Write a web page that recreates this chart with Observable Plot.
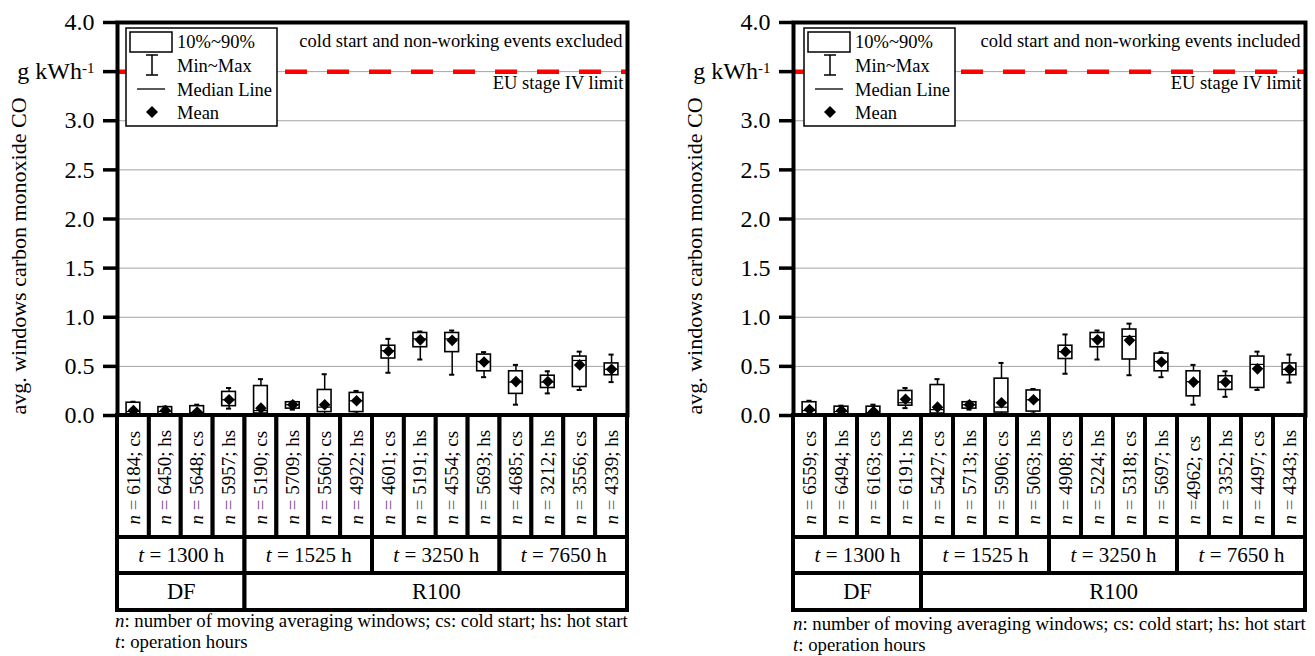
<!DOCTYPE html>
<html>
<head>
<meta charset="utf-8">
<script src="https://cdn.jsdelivr.net/npm/d3@7"></script>
<script src="https://cdn.jsdelivr.net/npm/@observablehq/plot@0.6"></script>
<style>
  html, body { margin: 0; padding: 0; background: #fff; }
  body { width: 1315px; height: 656px; overflow: hidden; position: relative;
         font-family: "Liberation Serif", Tinos, "Times New Roman", Times, "DejaVu Serif", serif; color: #000; }
  .panel { position: absolute; top: 0; height: 656px; }
  .panel .main { position: absolute; left: 0; top: 0; }
  .panel .table { position: absolute; left: 0; top: 413px; }
  .panel svg { overflow: visible; }
  .ytitle { position: absolute; left: 19px; top: 256px; font-size: 22px; white-space: nowrap;
            transform: translate(-50%, -50%) rotate(-90deg); }
  .legend { position: absolute; top: 27px; }
  .caption { position: absolute; font-size: 18.8px; line-height: 21px; white-space: nowrap; }
  svg [aria-label="y-axis tick"] { stroke-width: 3.5px; }
  svg text { font-family: "Liberation Serif", Tinos, "Times New Roman", Times, "DejaVu Serif", serif; }
</style>
</head>
<body>
<script>
// ---------------- data ----------------
const categoryIndex = d3.range(16);
const timeLabels = ["t = 1300 h", "t = 1525 h", "t = 3250 h", "t = 7650 h"];
const timeSpans = [4, 4, 4, 4];
const fuelLabels = ["DF", "R100"];
const fuelSpans = [4, 12];

const yTicks = [0, 0.5, 1, 1.5, 2, 2.5, 3, 3.5, 4];
const yTickLabels = ["0.0", "0.5", "1.0", "1.5", "2.0", "2.5", "3.0", "g kWh-1", "4.0"];
const gridTicks = [0.5, 1, 1.5, 2, 2.5, 3, 3.5];
const euLimit = 3.5;
const yTitle = "avg. windows carbon monoxide CO";
const limitLabel = "EU stage IV limit";
const legendLabels = ["10%~90%", "Min~Max", "Median Line", "Mean"];
const captionLines = ["<i>n</i>: number of moving averaging windows; cs: cold start; hs: hot start",
                      "<i>t</i>: operation hours"];

// Left: cold start and non-working events excluded
const noteExcluded = "cold start and non-working events excluded";
const nLabelsExcluded = ["n = 6184; cs", "n = 6450; hs", "n = 5648; cs", "n = 5957; hs",
                         "n = 5190; cs", "n = 5709; hs", "n = 5560; cs", "n = 4922; hs",
                         "n = 4601; cs", "n = 5191; hs", "n = 4554; cs", "n = 5693; hs",
                         "n = 4685; cs", "n = 3212; hs", "n = 3556; cs", "n = 4339; hs"];
const p10Excluded  = [0.01, 0.01, 0.01, 0.095, 0.02, 0.07, 0.035, 0.035, 0.58, 0.695, 0.645, 0.45, 0.22, 0.28, 0.29, 0.41];
const p90Excluded  = [0.13, 0.085, 0.095, 0.24, 0.30, 0.135, 0.26, 0.23, 0.71, 0.84, 0.84, 0.62, 0.45, 0.405, 0.60, 0.53];
const minExcluded  = [0.0, 0.0, 0.0, 0.07, 0.0, 0.06, 0.01, 0.02, 0.435, 0.57, 0.415, 0.39, 0.11, 0.225, 0.26, 0.34];
const maxExcluded  = [0.14, 0.09, 0.11, 0.28, 0.37, 0.14, 0.42, 0.25, 0.78, 0.855, 0.865, 0.645, 0.515, 0.45, 0.65, 0.62];
const meanExcluded = [0.05, 0.05, 0.035, 0.16, 0.075, 0.11, 0.11, 0.15, 0.655, 0.77, 0.765, 0.545, 0.345, 0.345, 0.515, 0.47];
const medExcluded  = [0.04, 0.04, 0.03, 0.16, 0.05, 0.11, 0.085, 0.15, 0.66, 0.78, 0.78, 0.55, 0.34, 0.34, 0.56, 0.47];

// Right: cold start and non-working events included
const noteIncluded = "cold start and non-working events included";
const nLabelsIncluded = ["n = 6559; cs", "n = 6494; hs", "n = 6163; cs", "n = 6191; hs",
                         "n = 5427; cs", "n = 5713; hs", "n = 5906; cs", "n = 5063; hs",
                         "n = 4908; cs", "n = 5224; hs", "n = 5318; cs", "n = 5697; hs",
                         "n =4962; cs", "n = 3352; hs", "n = 4497; cs", "n = 4343; hs"];
const p10Included  = [0.01, 0.01, 0.01, 0.10, 0.02, 0.07, 0.03, 0.04, 0.575, 0.695, 0.57, 0.45, 0.195, 0.26, 0.28, 0.41];
const p90Included  = [0.135, 0.09, 0.09, 0.25, 0.31, 0.135, 0.375, 0.255, 0.71, 0.84, 0.875, 0.63, 0.45, 0.40, 0.60, 0.53];
const minIncluded  = [0.0, 0.0, 0.0, 0.075, 0.0, 0.06, 0.01, 0.02, 0.425, 0.57, 0.41, 0.39, 0.11, 0.19, 0.26, 0.335];
const maxIncluded  = [0.15, 0.10, 0.11, 0.28, 0.37, 0.14, 0.535, 0.27, 0.825, 0.865, 0.935, 0.645, 0.515, 0.45, 0.65, 0.62];
const meanIncluded = [0.06, 0.05, 0.04, 0.165, 0.085, 0.11, 0.13, 0.16, 0.65, 0.77, 0.765, 0.545, 0.34, 0.34, 0.475, 0.47];
const medIncluded  = [0.05, 0.04, 0.03, 0.13, 0.06, 0.11, 0.085, 0.16, 0.65, 0.78, 0.805, 0.55, 0.345, 0.34, 0.52, 0.47];

// ---------------- layout / style ----------------
const FONT = '"Liberation Serif", Tinos, "Times New Roman", Times, "DejaVu Serif", serif';
const boxHalf = 0.215, capHalf = 0.08;
const rowEdges = {n: [0, 122], t: [122, 158], g: [158, 195]};

const panels = [
  {left: 0, width: 640, mr: 13, note: noteExcluded, nLabels: nLabelsExcluded,
   p10: p10Excluded, p90: p90Excluded, min: minExcluded, max: maxExcluded, mean: meanExcluded, med: medExcluded,
   legendLeft: 125, captionLeft: 115, captionTop: 610},
  {left: 676, width: 639, mr: 10, note: noteIncluded, nLabels: nLabelsIncluded,
   p10: p10Included, p90: p90Included, min: minIncluded, max: maxIncluded, mean: meanIncluded, med: medIncluded,
   legendLeft: 127, captionLeft: 117, captionTop: 613}
];

const diamond = {
  draw(ctx, size) {
    const r = Math.sqrt(size / Math.PI);
    ctx.moveTo(0, -r); ctx.lineTo(r, 0); ctx.lineTo(0, r); ctx.lineTo(-r, 0); ctx.closePath();
  }
};

function mainPlot(p) {
  const rows = categoryIndex.map(i => ({
    xc: i + 0.5, p10: p.p10[i], p90: p.p90[i], min: p.min[i], max: p.max[i], mean: p.mean[i], med: p.med[i]
  }));
  return Plot.plot({
    width: p.width, height: 421,
    marginLeft: 117, marginRight: p.mr, marginTop: 22, marginBottom: 6,
    x: {domain: [0, 16], axis: null},
    y: {domain: [0, 4]},
    style: {fontFamily: FONT, fontSize: "24px", color: "black", background: "transparent", overflow: "visible"},
    marks: [
      Plot.gridY(gridTicks, {stroke: "#a3a3a3", strokeOpacity: 1, strokeWidth: 1}),
      Plot.ruleY([euLimit], {stroke: "#ff0000", strokeWidth: 4.5, strokeDasharray: "22 20"}),
      Plot.text([limitLabel], {x: 16, y: euLimit, text: d => d, textAnchor: "end", lineAnchor: "bottom",
        dx: -4, dy: 17, fontSize: 18.5, fill: "black"}),
      Plot.text([p.note], {frameAnchor: "top-right", text: d => d, textAnchor: "end", lineAnchor: "bottom",
        dx: -5, dy: 24, fontSize: 18.5, fill: "black"}),
      Plot.ruleX(rows, {x: "xc", y1: "min", y2: "max", stroke: "black", strokeWidth: 1.5}),
      Plot.ruleY(rows, {y: "max", x1: d => d.xc - capHalf, x2: d => d.xc + capHalf, stroke: "black", strokeWidth: 2}),
      Plot.ruleY(rows, {y: "min", x1: d => d.xc - capHalf, x2: d => d.xc + capHalf, stroke: "black", strokeWidth: 2}),
      Plot.rect(rows, {x1: d => d.xc - boxHalf, x2: d => d.xc + boxHalf, y1: "p10", y2: "p90",
        fill: "white", stroke: "black", strokeWidth: 1.6}),
      Plot.ruleY(rows, {y: "med", x1: d => d.xc - boxHalf, x2: d => d.xc + boxHalf, stroke: "black", strokeWidth: 1.2}),
      Plot.dot(rows, {x: "xc", y: "mean", symbol: diamond, r: 5.8, fill: "black", stroke: "none"}),
      Plot.frame({stroke: "black", strokeWidth: 4}),
      Plot.axisY(yTicks, {tickSize: 14, tickPadding: 9, strokeWidth: 3.5, fontSize: 24,
        tickFormat: d => yTickLabels[yTicks.indexOf(d)], label: null})
    ]
  });
}

function tablePlot(p) {
  const nCells = categoryIndex.map(i => ({i, label: p.nLabels[i]}));
  let acc = 0;
  const tCells = timeLabels.map((label, j) => { const c = {x1: acc, x2: acc + timeSpans[j], label}; acc += timeSpans[j]; return c; });
  acc = 0;
  const gCells = fuelLabels.map((label, j) => { const c = {x1: acc, x2: acc + fuelSpans[j], label}; acc += fuelSpans[j]; return c; });
  const cellStyle = {fill: "white", stroke: "black", strokeWidth: 4};
  return Plot.plot({
    width: p.width, height: 200,
    marginLeft: 117, marginRight: p.mr, marginTop: 2, marginBottom: 3,
    x: {domain: [0, 16], axis: null},
    y: {domain: [0, 195], range: [2, 197], axis: null},
    style: {fontFamily: FONT, fontSize: "22px", color: "black", background: "transparent", overflow: "visible"},
    marks: [
      Plot.rect(nCells, {x1: "i", x2: d => d.i + 1, y1: rowEdges.n[0], y2: rowEdges.n[1], ...cellStyle}),
      Plot.rect(tCells, {x1: "x1", x2: "x2", y1: rowEdges.t[0], y2: rowEdges.t[1], ...cellStyle}),
      Plot.rect(gCells, {x1: "x1", x2: "x2", y1: rowEdges.g[0], y2: rowEdges.g[1], ...cellStyle}),
      Plot.text(nCells, {x: d => d.i + 0.5, y: rowEdges.n[1] - 13, text: "label", rotate: -90,
        textAnchor: "start", lineAnchor: "middle", fontSize: 19, fill: "black"}),
      Plot.text(tCells, {x: d => (d.x1 + d.x2) / 2, y: (rowEdges.t[0] + rowEdges.t[1]) / 2, text: "label",
        lineAnchor: "middle", fontSize: 21, fill: "black"}),
      Plot.text(gCells, {x: d => (d.x1 + d.x2) / 2, y: (rowEdges.g[0] + rowEdges.g[1]) / 2, text: "label",
        lineAnchor: "middle", fontSize: 22.5, fill: "black"})
    ]
  });
}

function italicizeFirst(svg, eqColor) {
  const NS = "http://www.w3.org/2000/svg";
  svg.querySelectorAll("text").forEach(t => {
    const s = t.textContent;
    if (!/^[nt] ?=/.test(s)) return;
    t.textContent = "";
    t.setAttribute("style", "white-space: pre");
    const a = document.createElementNS(NS, "tspan");
    a.setAttribute("font-style", "italic"); a.textContent = s[0]; t.appendChild(a);
    const rest = s.slice(1);
    const k = rest.indexOf("=");
    const b = document.createElementNS(NS, "tspan"); b.textContent = rest.slice(0, k); t.appendChild(b);
    const c = document.createElementNS(NS, "tspan"); c.textContent = "=";
    if (eqColor && s[0] === "n") c.setAttribute("fill", eqColor);
    t.appendChild(c);
    const d = document.createElementNS(NS, "tspan"); d.textContent = rest.slice(k + 1); t.appendChild(d);
  });
}

function superscriptUnit(svg) {
  const NS = "http://www.w3.org/2000/svg";
  svg.querySelectorAll("text").forEach(t => {
    if (t.textContent !== "g kWh-1") return;
    t.textContent = "g kWh";
    const sup = document.createElementNS(NS, "tspan");
    sup.setAttribute("dy", "-0.42em");
    sup.setAttribute("font-size", "15px");
    sup.textContent = "-1";
    t.appendChild(sup);
  });
}

function legendSvg(p) {
  const svg = d3.create("svg").attr("class", "legend")
    .attr("width", 154).attr("height", 101)
    .style("left", p.legendLeft + "px").style("position", "absolute").style("top", "27px")
    .style("font-family", FONT).style("font-size", "18.5px");
  svg.append("rect").attr("x", 1).attr("y", 1).attr("width", 151).attr("height", 98)
    .attr("fill", "white").attr("stroke", "black").attr("stroke-width", 1.5);
  svg.append("rect").attr("x", 5).attr("y", 5).attr("width", 42).attr("height", 20)
    .attr("fill", "white").attr("stroke", "black").attr("stroke-width", 1.5);
  svg.append("path").attr("d", "M27,28V48M21,28H33M21,48H33").attr("stroke", "black").attr("stroke-width", 1.5).attr("fill", "none");
  svg.append("path").attr("d", "M12,62H40").attr("stroke", "black").attr("stroke-width", 1.3);
  svg.append("path").attr("d", "M27,79L33,85L27,91L21,85Z").attr("fill", "black");
  const ys = [21, 45, 69, 92];
  legendLabels.forEach((s, i) => svg.append("text").attr("x", 52).attr("y", ys[i]).attr("fill", "black").text(s));
  return svg.node();
}

panels.forEach(p => {
  const div = document.createElement("div");
  div.className = "panel";
  div.style.left = p.left + "px";
  div.style.width = p.width + "px";
  document.body.appendChild(div);

  const m = mainPlot(p);
  m.classList.add("main");
  superscriptUnit(m);
  div.appendChild(m);

  const t = tablePlot(p);
  t.classList.add("table");
  italicizeFirst(t, "#6e4f7e");
  div.appendChild(t);

  div.appendChild(legendSvg(p));

  const yt = document.createElement("div");
  yt.className = "ytitle";
  yt.textContent = yTitle;
  div.appendChild(yt);

  const cap = document.createElement("div");
  cap.className = "caption";
  cap.style.left = p.captionLeft + "px";
  cap.style.top = p.captionTop + "px";
  cap.innerHTML = captionLines.join("<br>");
  div.appendChild(cap);
});
</script>
</body>
</html>
